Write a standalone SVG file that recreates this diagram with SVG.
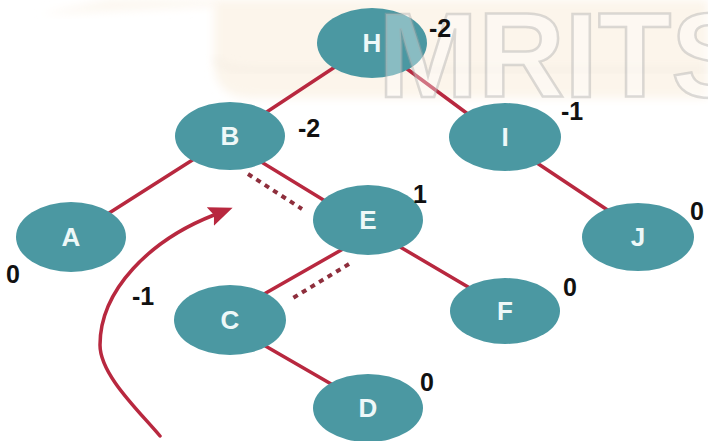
<svg xmlns="http://www.w3.org/2000/svg" width="708" height="441" viewBox="0 0 708 441">
  <defs>
    <filter id="soft" x="-10%" y="-30%" width="120%" height="160%">
      <feGaussianBlur stdDeviation="5"/>
    </filter>
    <marker id="arrow" markerUnits="userSpaceOnUse" markerWidth="26" markerHeight="22" refX="4" refY="10" orient="auto">
      <path d="M0,0 L24,10 L0,20 L4,10 Z" fill="#b8283f"/>
    </marker>
    <style>
      .node ellipse { fill: #4b98a2; }
      .node text { font-family: "Liberation Sans", Arial, sans-serif; font-weight: bold; font-size: 26px; fill: #eef8f8; text-anchor: middle; }
      .bal { font-family: "Liberation Sans", Arial, sans-serif; font-weight: bold; font-size: 25px; fill: #111111; }
      .edge { stroke: #b8283f; stroke-width: 3.5; fill: none; stroke-linecap: round; }
      .dots { stroke: #8e2e3c; stroke-width: 4; fill: none; stroke-dasharray: 5 5; }
      .wm { font-family: "Liberation Sans", Arial, sans-serif; font-weight: bold; font-size: 120px; fill: #ffffff; fill-opacity: 0.35; stroke: #a8a8a8; stroke-opacity: 0.4; stroke-width: 2.5; }
    </style>
  </defs>

  <rect x="0" y="0" width="708" height="441" fill="#ffffff"/>

  <!-- faint background tint -->
  <g id="background">
    <path d="M40,14 L110,0 L220,0 L215,6 Z" fill="#fcf6ee" filter="url(#soft)"/>
    <path d="M214,0 L708,0 L708,98 L252,98 Q214,98 214,62 Z" fill="#fcf5eb" filter="url(#soft)"/>
    <path d="M216,58 Q220,70 250,70 L708,70" stroke="#f1e9df" stroke-width="3" fill="none" filter="url(#soft)"/>
  </g>

  <!-- connectors -->
  <g id="connectors">
    <line class="edge" x1="350" y1="57" x2="250" y2="123"/>
    <line class="edge" x1="395" y1="60" x2="480" y2="123"/>
    <line class="edge" x1="525" y1="155" x2="615" y2="215"/>
    <line class="edge" x1="205" y1="152" x2="95" y2="222"/>
    <line class="edge" x1="250" y1="155" x2="335" y2="207"/>
    <line class="edge" x1="350" y1="245" x2="250" y2="302"/>
    <line class="edge" x1="390" y1="241" x2="480" y2="294"/>
    <line class="edge" x1="255" y1="340" x2="345" y2="392"/>
    <line class="dots" x1="248" y1="174" x2="302" y2="209"/>
    <line class="dots" x1="349" y1="264" x2="293" y2="298"/>
    <path class="edge" d="M160,436 C140,412 100,375 100,345 C100,290 150,240 214,215" marker-end="url(#arrow)"/>
  </g>

  <g id="node-H" class="node"><ellipse cx="372" cy="43" rx="55" ry="35"/><text x="372" y="52">H</text></g>
  <g id="node-B" class="node"><ellipse cx="230" cy="136" rx="55" ry="34"/><text x="230" y="145">B</text></g>
  <g id="node-I" class="node"><ellipse cx="505" cy="137" rx="56" ry="34"/><text x="505" y="146">I</text></g>
  <g id="node-A" class="node"><ellipse cx="71" cy="237" rx="55" ry="35"/><text x="71" y="246">A</text></g>
  <g id="node-E" class="node"><ellipse cx="368" cy="220" rx="55" ry="35"/><text x="368" y="229">E</text></g>
  <g id="node-J" class="node"><ellipse cx="638" cy="237" rx="56" ry="34"/><text x="638" y="246">J</text></g>
  <g id="node-C" class="node"><ellipse cx="230" cy="320" rx="56" ry="35"/><text x="230" y="329">C</text></g>
  <g id="node-F" class="node"><ellipse cx="505" cy="311" rx="55" ry="33"/><text x="505" y="320">F</text></g>
  <g id="node-D" class="node"><ellipse cx="368" cy="408" rx="55" ry="34"/><text x="368" y="417">D</text></g>

  <!-- watermark, semi-transparent over the top part -->
  <g id="watermark">
    <text class="wm" x="378" y="97">MRITS</text>
  </g>

  <g id="balance-labels">
    <text class="bal" x="429" y="37">-2</text>
    <text class="bal" x="298" y="137">-2</text>
    <text class="bal" x="561" y="120">-1</text>
    <text class="bal" x="413" y="203">1</text>
    <text class="bal" x="6" y="283">0</text>
    <text class="bal" x="690" y="220">0</text>
    <text class="bal" x="132" y="305">-1</text>
    <text class="bal" x="563" y="296">0</text>
    <text class="bal" x="420" y="391">0</text>
  </g>
</svg>
